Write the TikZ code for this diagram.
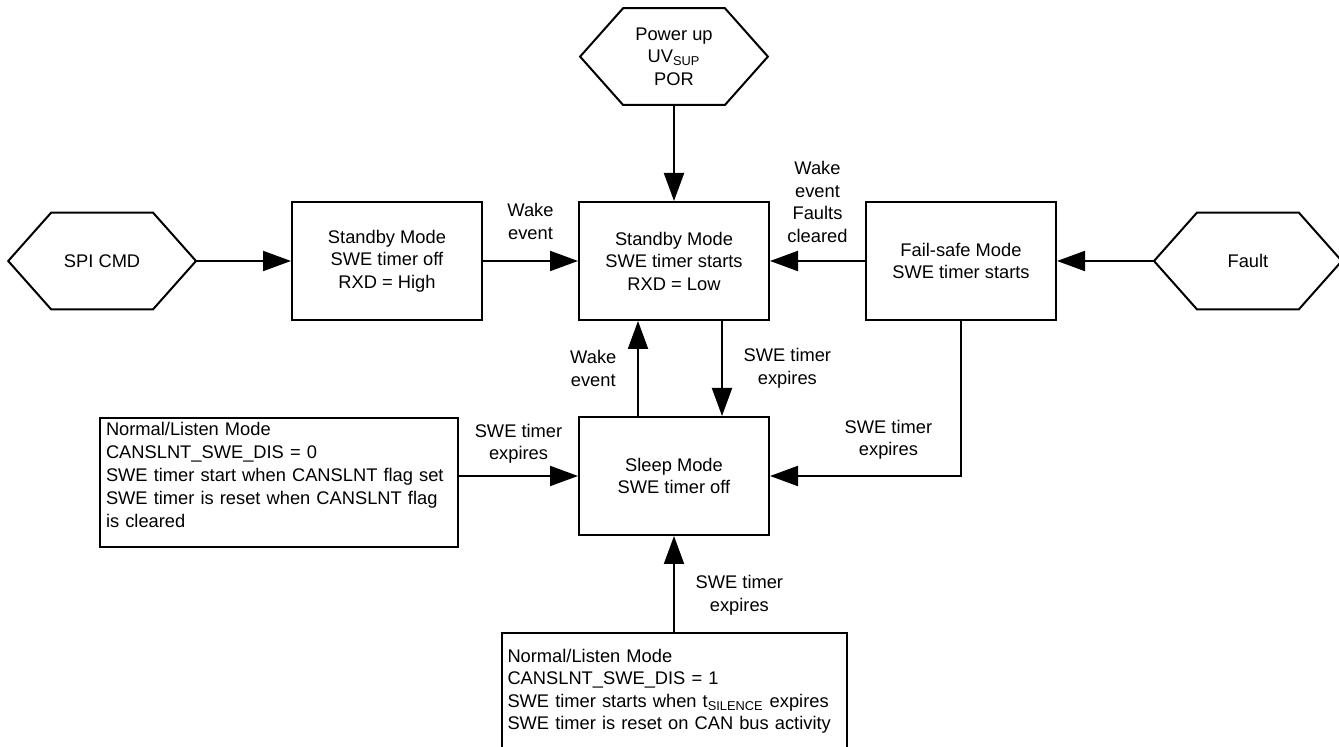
\documentclass[tikz,border=0pt]{standalone}
\usepackage{fontspec}
\setmainfont{Liberation Sans}
\usetikzlibrary{arrows.meta,positioning}
\newcommand{\hexoutline}[1]{\draw[line width=1pt] (#1.west) -- ([xshift=21.5pt]#1.north west) -- ([xshift=-21.5pt]#1.north east) -- (#1.east) -- ([xshift=-21.5pt]#1.south east) -- ([xshift=21.5pt]#1.south west) -- cycle;}

\begin{document}
\begin{tikzpicture}[x=0.5pt,y=-0.5pt,
    node distance=47.5pt,
    txt/.style={font=\fontsize{9.15}{11.25}\selectfont},
    box/.style={txt,draw,line width=1pt,align=center,minimum width=#1,minimum height=59pt},
    hex/.style={txt,align=center,minimum width=93.5pt,minimum height=48pt,inner sep=0pt},
    note/.style={txt,draw,line width=1pt,align=left,inner xsep=3pt,text width=#1},
    lbl/.style={txt,align=center},
    arr/.style={-{Triangle[length=14pt,width=10pt]},line width=1pt}
]
\useasboundingbox (0,0) rectangle (1339,747);

\node[box=95pt] (sbyon) at (674,261) {Standby Mode\\SWE timer starts\\RXD = Low};
\node[box=95pt,left=of sbyon] (sbyoff) {Standby Mode\\SWE timer off\\RXD = High};
\node[box=95pt,right=of sbyon] (fsafe) {Fail-safe Mode\\SWE timer starts};
\node[box=95pt,below=of sbyon] (sleep) {Sleep Mode\\SWE timer off};
\node[hex,above=48pt of sbyon] (por) {Power up\\UV\textsubscript{SUP}\\POR};
\node[hex,left=of sbyoff] (spi) {SPI CMD};
\node[hex,right=48.5pt of fsafe] (fault) {Fault};
\node[note=173pt,font=\fontsize{9.15}{11.6}\selectfont,inner ysep=1pt,minimum height=64.5pt,left=59.5pt of sleep,yshift=-3.25pt] (nlzero) {Normal/Listen Mode\\CANSLNT\_SWE\_DIS = 0\\SWE timer start when CANSLNT flag set\\SWE timer is reset when CANSLNT flag\\is cleared\\[-4pt]\mbox{}};
\node[note=166.5pt,minimum height=58.5pt,below=48pt of sleep] (nlone) {Normal/Listen Mode\\CANSLNT\_SWE\_DIS = 1\\SWE timer starts when t\textsubscript{SILENCE} expires\\SWE timer is reset on CAN bus activity};

\hexoutline{por}
\hexoutline{spi}
\hexoutline{fault}

\draw[arr] (por) -- (sbyon);
\draw[arr] (spi) -- (sbyoff);
\draw[arr] (sbyoff) -- node[lbl,above=7pt] (lwake) {Wake\\event} (sbyon);
\draw[arr] (fault) -- (fsafe);
\draw[arr] (fsafe) -- node[lbl,above=5.5pt] (lclear) {Wake\\event\\Faults\\cleared} (sbyon);
\draw[arr] ([xshift=-18pt]sleep.north) -- node[lbl,left=7pt] (lwaketwo) {Wake\\event} ([xshift=-18pt]sbyon.south);
\draw[arr] ([xshift=24pt]sbyon.south) -- node[lbl,right=7pt] (lexpone) {SWE timer\\expires} ([xshift=24pt]sleep.north);
\draw[arr] (nlzero.east |- sleep.west) -- node[lbl,above=2.5pt] (lexptwo) {SWE timer\\expires} (sleep.west);
\draw[arr] (fsafe) |- node[lbl,pos=0.69,above=4.5pt] (lexpthree) {SWE timer\\expires} (sleep);
\draw[arr] (nlone.north) -- node[lbl,pos=0.385,right=7pt] (lexpfour) {SWE timer\\expires} (sleep.south);
\end{tikzpicture}
\end{document}
